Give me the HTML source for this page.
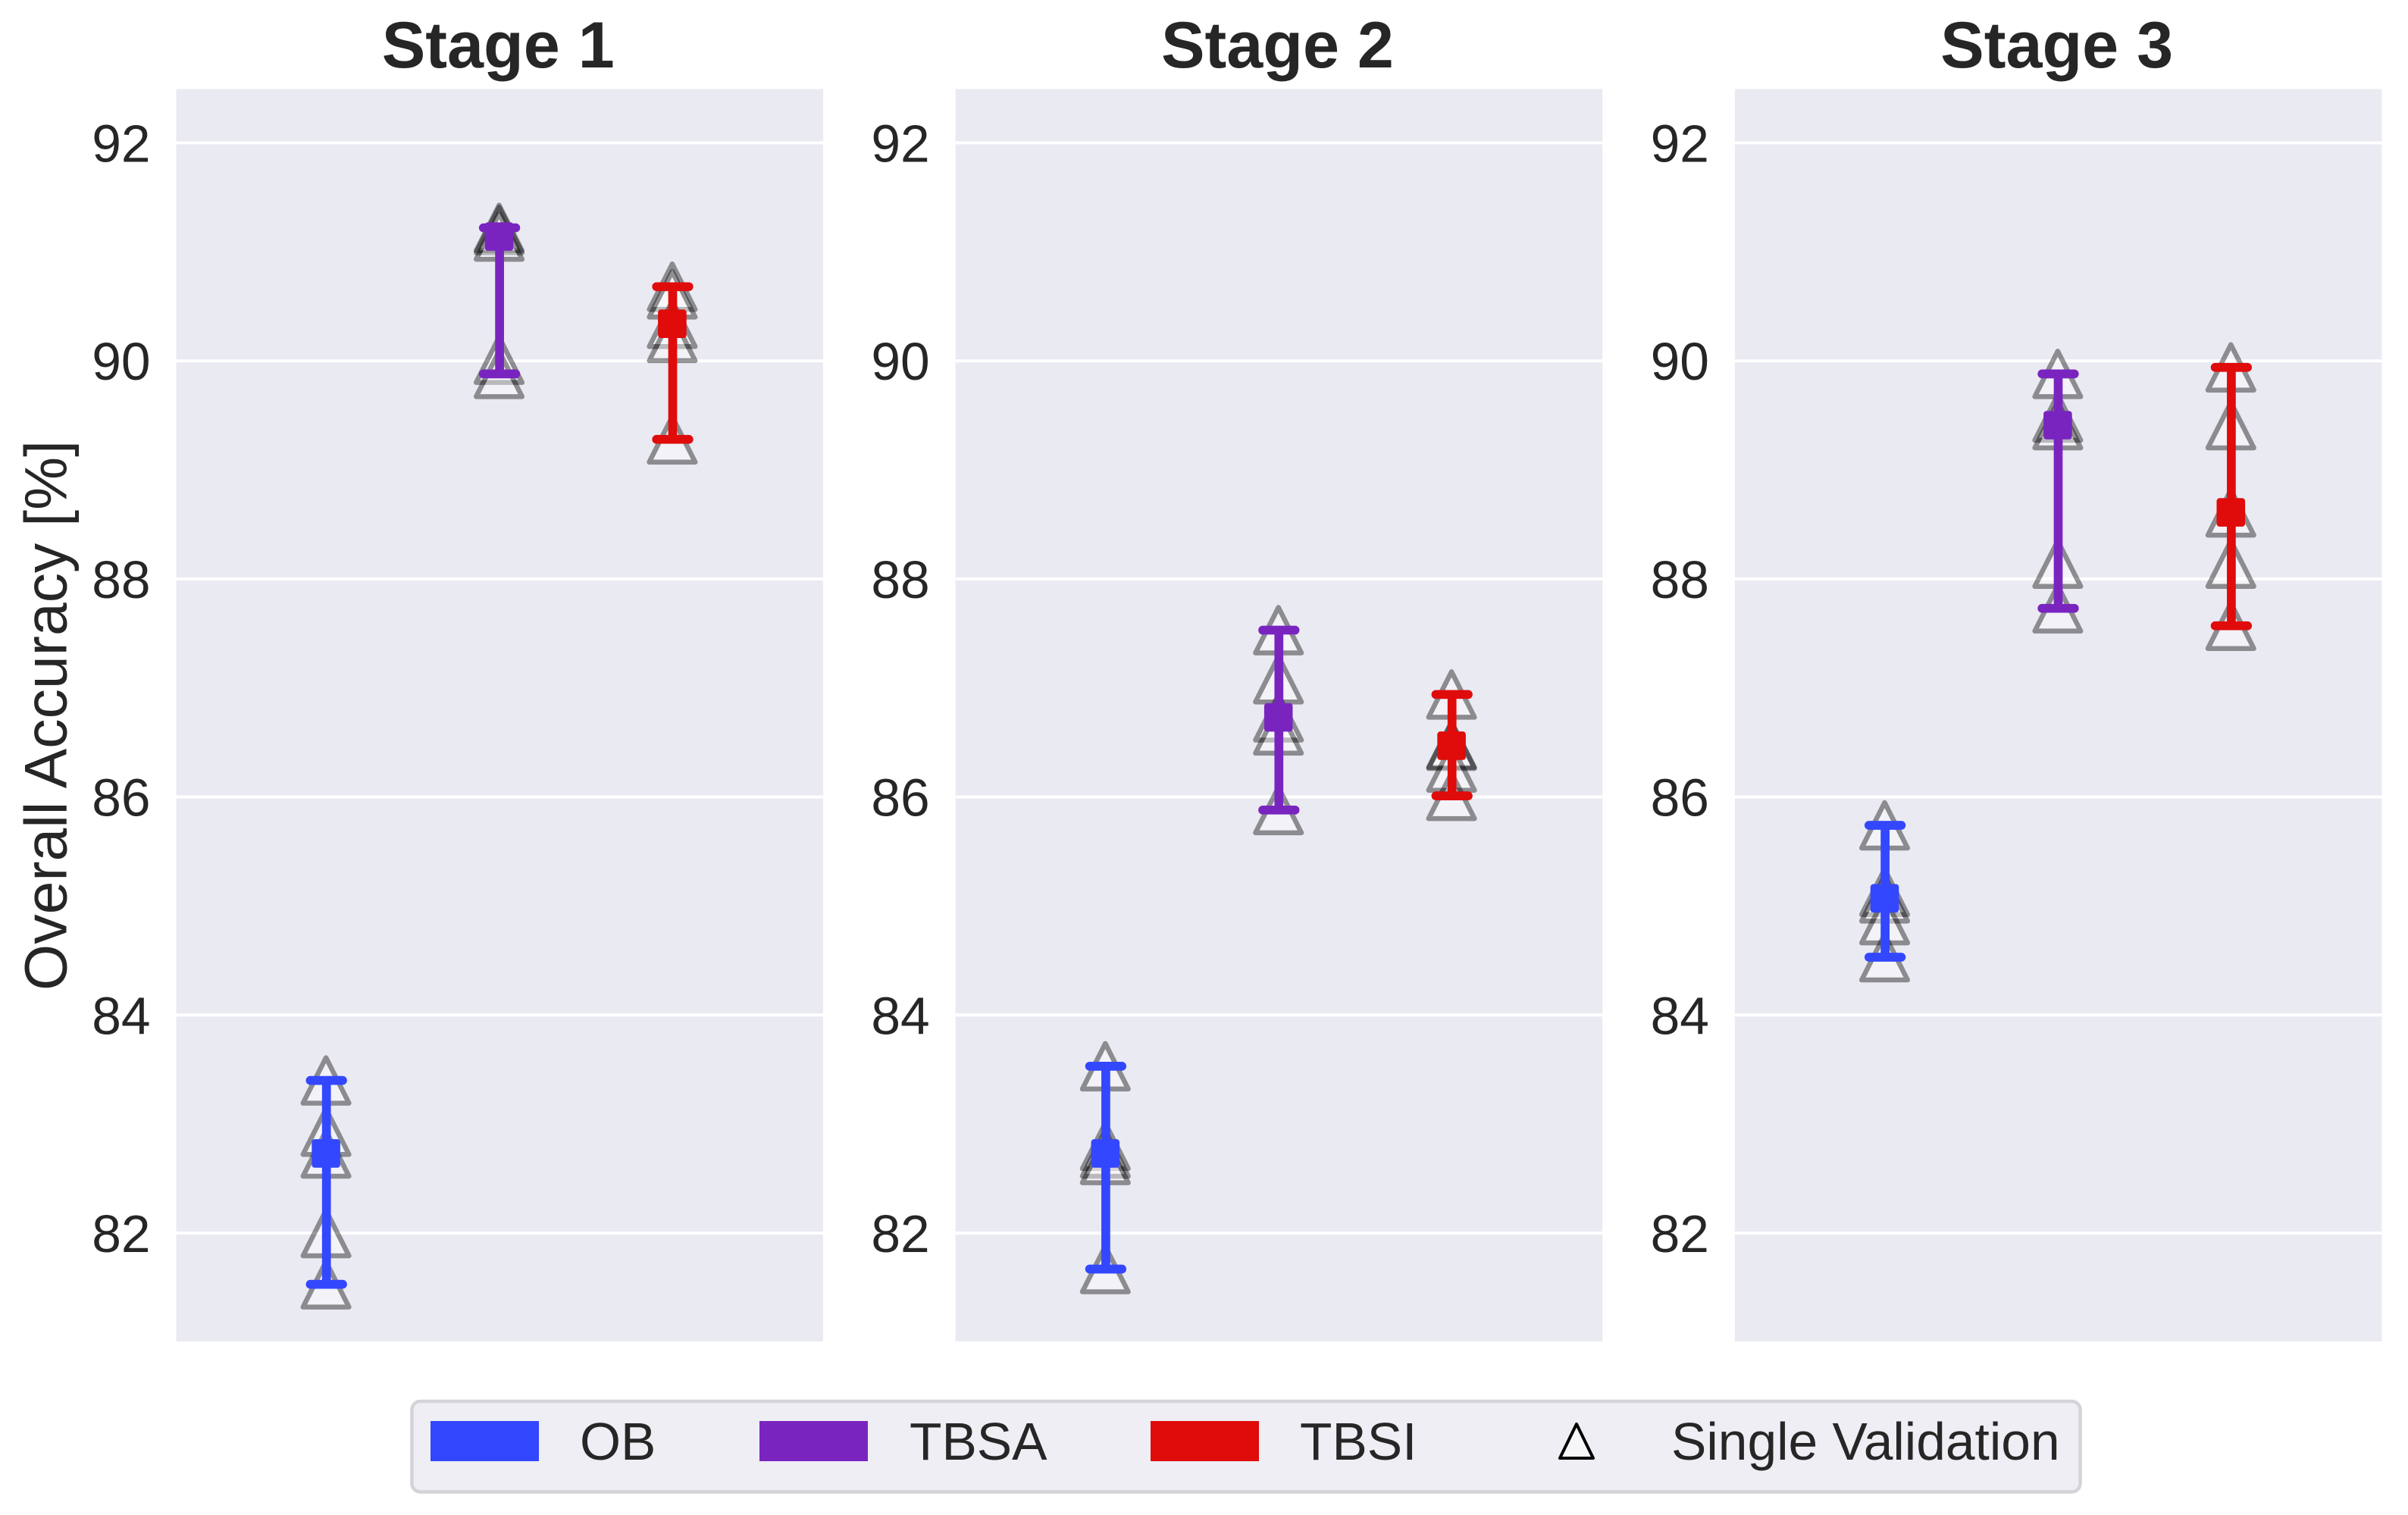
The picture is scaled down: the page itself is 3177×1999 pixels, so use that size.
<!DOCTYPE html>
<html>
<head>
<meta charset="utf-8">
<title>Overall Accuracy by Stage</title>
<style>
html,body{margin:0;padding:0;background:#fff;}
svg{display:block;font-family:"Liberation Sans",Arial,sans-serif;}
</style>
</head>
<body>
<svg id="chart" xmlns="http://www.w3.org/2000/svg" width="3177" height="1999" viewBox="0 0 3177 1999"></svg>
<script>
const stages = ['Stage 1', 'Stage 2', 'Stage 3'];
const methods = ['OB', 'TBSA', 'TBSI'];
const methodColors = ['#3347ff', '#7a24c0', '#e00b0b'];
const yTicks = [82, 84, 86, 88, 90, 92];

const stage1OB = [83.40, 82.93, 82.73, 82.00, 81.53];
const stage1TBSA = [91.22, 91.20, 91.14, 90.01, 89.88];
const stage1TBSI = [90.68, 90.61, 90.34, 90.21, 89.28];
const stage2OB = [83.53, 82.80, 82.73, 82.67, 81.67];
const stage2TBSA = [87.53, 87.08, 86.73, 86.61, 85.88];
const stage2TBSI = [86.94, 86.48, 86.47, 86.27, 86.01];
const stage3OB = [85.74, 85.13, 85.07, 84.87, 84.53];
const stage3TBSA = [89.88, 89.48, 89.41, 88.14, 87.73];
const stage3TBSI = [89.94, 89.41, 88.61, 88.14, 87.57];

const medianOB = [82.73, 82.73, 85.07];
const medianTBSA = [91.14, 86.73, 89.41];
const medianTBSI = [90.34, 86.47, 88.61];

const stageSingles = [
  [stage1OB, stage1TBSA, stage1TBSI],
  [stage2OB, stage2TBSA, stage2TBSI],
  [stage3OB, stage3TBSA, stage3TBSI]
];
const medians = [medianOB, medianTBSA, medianTBSI];

const svgNS = 'http://www.w3.org/2000/svg';
const root = document.getElementById('chart');
const PANEL_W = 853.5, PANEL_STEP = 1028.2, PANEL_L0 = 232.5, PANEL_T = 117.5, PANEL_B = 1770;

function panelLeft(p) { return PANEL_L0 + p * PANEL_STEP; }
function xScale(p, m) { return panelLeft(p) + 197.6 + 228.4 * m; }
function yScale(v) { return 188.4 + (92 - v) * 143.86; }

function make(parent, tag, attrs, text) {
  const el = document.createElementNS(svgNS, tag);
  for (const k in attrs) el.setAttribute(k, attrs[k]);
  if (text !== undefined) el.textContent = text;
  parent.appendChild(el);
  return el;
}

stages.forEach(function (stage, p) {
  const left = panelLeft(p);
  const g = make(root, 'g', {});
  
  

  const bg = make(g, 'rect', { x: left, y: PANEL_T, width: PANEL_W, height: PANEL_B - PANEL_T, fill: '#eaeaf2' });
  
  

  const title = make(g, 'text', { x: left + PANEL_W / 2 - 2, y: 89, 'text-anchor': 'middle', 'font-size': 86.3, 'font-weight': 'bold', fill: '#262626' }, stage);
  
  

  yTicks.forEach(function (t) {
    const line = make(g, 'line', { x1: left, x2: left + PANEL_W, y1: yScale(t), y2: yScale(t), stroke: '#ffffff', 'stroke-width': 4 });
    
    
    const lab = make(g, 'text', { x: left - 34, y: yScale(t) + 25, 'text-anchor': 'end', 'font-size': 69.5, fill: '#262626' }, String(t));
    
    
  });

  methods.forEach(function (method, m) {
    const cx = xScale(p, m);
    const singles = stageSingles[p][m];
    const series = make(g, 'g', {});
    
    

    singles.forEach(function (v) {
      const cy = yScale(v);
      const tri = make(series, 'polygon', {
        points: cx + ',' + (cy - 30) + ' ' + (cx + 30.3) + ',' + (cy + 30) + ' ' + (cx - 30.3) + ',' + (cy + 30),
        fill: '#ffffff', stroke: '#000000', 'stroke-width': 6.5, 'stroke-linejoin': 'round', opacity: 0.4
      });
      
      
    });

    const hi = Math.max.apply(null, singles);
    const lo = Math.min.apply(null, singles);
    const color = methodColors[m];
    const ex = cx + 0.6;

    const stem = make(series, 'line', { x1: ex, x2: ex, y1: yScale(hi), y2: yScale(lo), stroke: color, 'stroke-width': 11.7 });
    
    

    [hi, lo].forEach(function (v) {
      const cap = make(series, 'line', { x1: ex - 21.3, x2: ex + 21.3, y1: yScale(v), y2: yScale(v), stroke: color, 'stroke-width': 11.7, 'stroke-linecap': 'round' });
      
      
    });

    const sq = make(series, 'rect', { x: cx - 18.8, y: yScale(medians[m][p]) - 18.8, width: 37.6, height: 37.6, rx: 4, ry: 4, fill: color });
    
    
  });
});

const yTitle = make(root, 'text', { transform: 'translate(87.5,944) rotate(-90)', 'text-anchor': 'middle', 'font-size': 78.7, fill: '#262626' }, 'Overall Accuracy [%]');



const legend = make(root, 'g', {});



const legendBox = make(legend, 'rect', { x: 543.5, y: 1849, width: 2201, height: 119.5, rx: 11, ry: 11, fill: '#eeeef4', stroke: '#d4d4d8', 'stroke-width': 4.5 });



const legendPatchX = [568, 1002, 1518];
const legendTextX = [768, 1203, 1718];
methods.forEach(function (method, m) {
  const patch = make(legend, 'rect', { x: legendPatchX[m], y: 1875, width: 143, height: 53, fill: methodColors[m] });
  
  
  const label = make(legend, 'text', { x: legendTextX[m] - 3, y: 1926, 'font-size': 69.5, fill: '#262626' }, method);
  
  
});

const legendTri = make(legend, 'polygon', { points: '2080,1879 2102,1924 2058,1924', fill: '#f6f6fa', stroke: '#000000', 'stroke-width': 4, 'stroke-linejoin': 'round' });



const legendSingle = make(legend, 'text', { x: 2205, y: 1926, 'font-size': 69.5, fill: '#262626' }, 'Single Validation');


</script>
</body>
</html>
